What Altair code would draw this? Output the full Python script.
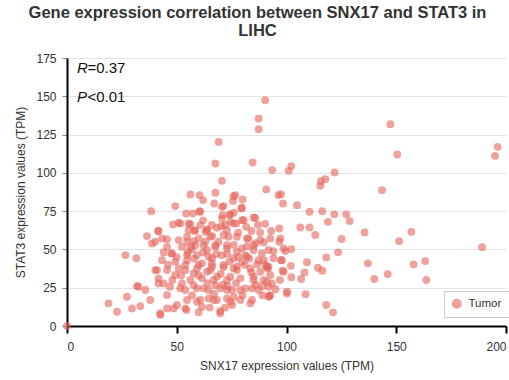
import altair as alt
import pandas as pd

x_vals = [
    90.3, 87.3, 87.3, 69.1, 67.6, 84.6, 93.5, 70.6, 56.2, 60.4, 62, 67.6, 76.7, 90.8, 96.3,
    147.3, 196.2, 195, 150.5, 101, 102.2, 121.9, 117.7, 115.7, 115.4, 143.5, 97.5,
    98.4, 104.8, 110.5, 116.3, 121.8, 127.2, 128.8, 118.9, 90.3, 96.7, 106.3, 110.5, 113.1,
    135.6, 156.9, 151.3, 125.1, 189.1, 89.6, 96.7, 102.2, 99.5, 94, 123.5, 118.1, 109.3,
    97.5, 102, 98.2, 108.2, 114.3, 116.3, 102.2, 106.7, 137.1, 157.9, 163.2, 146.1, 140,
    163.7, 100.2, 108.7, 118.1, 121.2, 89.6,
    91.4, 92.6, 93.4, 92.6, 91.8, 88.8, 90.3,
    80, 75.6, 67.1, 71.3, 79.4, 49.3, 38.4, 54.3, 57.4, 60.4, 70.9, 74.4, 85, 74.4, 79.7,
    50.9, 48.3, 56.2, 60.7, 63.8, 70.3, 77.1, 81.6, 72.9, 41.5, 36.4, 45.6, 40.2, 50.9,
    57.7, 63, 66.1, 73.6, 82, 85, 26.6, 31.6, 47.5, 52.4, 56.9, 58.4, 63.8, 67.6, 72.9,
    77.4, 81.2, 87.3, 91.1, 43.3, 49.3, 54.7, 61.5, 66.1, 71.3, 75.9, 79.7, 40.2, 45.6,
    50.9, 57.7, 63.8, 68.3, 74.4, 85, 89.6, 31.9, 35.7, 41.7, 46.9, 52.4, 57.7, 62.2,
    67.6, 72.9, 79, 84.3, 92.3, 27.3, 18.9, 22.8, 29.6, 33.4, 37.9, 42.5, 45.6, 50.1,
    54.4, 59.2, 64.5, 69.8, 68.3, 74.4, 79, 83.5, 0,
    60.7, 70.6, 74.1, 79.7, 70.6, 75.9, 80.5, 85.8, 55.4, 58.4, 63.8, 68.3, 54.7, 60,
    65.3, 71.3, 77.4, 82.7, 88.1, 92.6, 97.2, 56.2, 62.2, 67.6, 72.9, 79.7, 85, 91.8,
    98.7, 54.7, 59.2, 64.5, 70.6, 75.9, 82, 94.1, 97.9, 53.9, 60, 66.1, 71.3, 77.4,
    86.6, 91.8,
    53.9, 59.2, 65.3, 77.4, 83.5, 88.1, 98.7, 56.2, 61.5, 66.8, 72.9, 79, 85, 91.1,
    100.2, 53.9, 59.2, 64.5, 69.8, 75.2, 81.2, 87.3, 91.8, 54.7, 60.7, 66.8, 72.9, 84.3,
    53.9, 61.5, 69.8, 75.2,
    32.6, 42.5, 41.7, 45.6, 48.6, 51.6, 41, 44, 49.3,
    41.7, 38.7, 43.3, 45.6, 47.9, 51.6, 55.4, 54.7, 75.9,
    58, 62, 66, 69, 73, 76, 78, 81, 84, 86, 88, 64, 67, 71, 74, 77, 80, 83, 57, 60, 63,
    68, 70, 73, 76, 78, 82, 86, 89, 52, 55, 50, 48, 46, 44, 58, 62, 66, 72, 76, 84, 87,
    93, 95, 97, 60, 65, 72, 89,
]
y_vals = [
    147.4, 135.5, 128.5, 120.2, 106.1, 106.8, 101.8, 94.8, 85.9, 85.5, 82.2, 87, 85.5, 89.2, 85.5,
    131.8, 117, 111.1, 112, 101.3, 104.4, 100.2, 95.9, 94.6, 91.5, 88.7, 86.1,
    80, 78.9, 74.6, 75, 72.9, 72.9, 68.5, 68, 66.7, 63.7, 64.4, 64.4, 59.4,
    61.1, 61.5, 55.4, 56.8, 51.5, 54.6, 55, 50.2, 48.9, 48.9, 48.1, 44.8, 41.6,
    42.9, 39.3, 36.1, 35, 38, 36.1, 31.8, 30.7, 40.9, 40.2, 42.4, 33.9, 30.7,
    30, 21.3, 20.7, 13.7, 8.9, 43,
    37.6, 33.3, 27.8, 20.2, 25.6, 47.4, 39.8,
    82.6, 81.7, 80, 78.3, 76.8, 78.3, 75, 73.5, 73.5, 75, 72.4, 73, 70.9, 68, 69.1,
    67.4, 66.3, 66.3, 65.9, 63, 65.2, 67, 64.8, 62.6, 62, 58.7, 56.6, 55, 56.1,
    55.4, 61.5, 58.7, 58.3, 57.2, 52.8, 46.3, 44.2, 47.4, 51.7, 50, 52.8, 49.6, 52.8, 50.7,
    48.5, 46.3, 43, 38.7, 43, 41.9, 43, 40.9, 44.2, 38.3, 37.6, 41.9, 36.5, 36.5,
    37.6, 34.4, 35.4, 32.2, 32.2, 32.2, 30, 26.1, 23.5, 27.8, 25.6, 27.8, 26.7, 24.6,
    26.7, 23.5, 23.5, 24.6, 19.6, 19.1, 14.8, 9.3, 11.5, 13, 17, 8.3, 11.5, 13.7,
    10.4, 15.9, 18, 9.8, 17, 15.9, 17, 14.8, 0,
    74.6, 77.8, 72.4, 77.2, 70.2, 67, 69.1, 70.6, 67, 62.6, 62.6, 64.1, 58.3, 57.2,
    58.3, 59.4, 58.3, 57.2, 56.1, 57.2, 57.2, 51.7, 52.8, 51.7, 52.8, 50.7, 49.6, 49.6,
    50.7, 46.3, 46.3, 45.2, 46.3, 44.2, 45.2, 44.2, 43, 39.8, 39.8, 38.7, 39.8, 38.7,
    40.2, 38.7,
    36.5, 37.6, 36.5, 36.5, 37.6, 35.4, 35.4, 30, 31.1, 30, 30, 31.1, 30, 28.9,
    22.4, 23.5, 24.6, 23.5, 24.6, 23.5, 24.6, 23.5, 19.1, 17, 17, 17, 18, 17,
    11.5, 12.5, 8.3, 13.7,
    25.6, 7.2, 31.1, 20.2, 11.5, 24.6, 36.5, 27.8, 33.3,
    62, 53.9, 57.2, 51.7, 47.4, 67, 62.6, 55, 84.8,
    44, 48, 41, 55, 47, 53, 61, 40, 35, 27, 61, 28, 21, 27, 42, 28, 20, 44, 20, 33, 55,
    47, 34, 26, 19, 45, 52, 54, 26, 33, 48, 45, 30, 40, 48, 62, 69, 66, 66, 74, 62, 66,
    62, 24, 30, 9, 12, 12, 20,
]
groups = ["Tumor"] * len(x_vals)

x_ticks = [0, 50, 100, 150, 200]
y_ticks = [0, 25, 50, 75, 100, 125, 150, 175]

# annotation: italic letter + normal remainder
ital_x = [4.6, 4.6]
ital_y = [168.5, 149.6]
ital_text = ["R", "P"]
norm_x = [9.3, 9.3]
norm_y = [168.5, 149.6]
norm_text = ["=0.37", "<0.01"]

df = pd.DataFrame({"x": x_vals, "y": y_vals, "group": groups})
ital = pd.DataFrame({"x": ital_x, "y": ital_y, "t": ital_text})
norm = pd.DataFrame({"x": norm_x, "y": norm_y, "t": norm_text})

FONT = "Liberation Sans"

xs = alt.Scale(domain=[0, 200], nice=False, zero=True)
ys = alt.Scale(domain=[0, 175], nice=False)

x_axis = alt.Axis(
    values=x_ticks, grid=False, title="SNX17 expression values (TPM)",
    domainColor="#000000", domainWidth=2, tickColor="#000000", tickWidth=2,
    tickSize=7, labelPadding=8, labelFontSize=12, labelColor="#333333",
    labelOverlap=False,
    titleFontSize=12, titleFontWeight="normal", titleColor="#333333",
    titlePadding=8, labelFont=FONT, titleFont=FONT)
y_axis = alt.Axis(
    values=y_ticks, grid=True, gridColor="#e3e3e3", gridWidth=1,
    title="STAT3 expression values (TPM)", labelOverlap=False,
    domainColor="#000000", domainWidth=2, tickColor="#888888", tickWidth=1,
    tickSize=5, labelPadding=6, labelFontSize=12, labelColor="#333333",
    titleFontSize=12, titleFontWeight="normal", titleColor="#333333",
    titlePadding=8, labelFont=FONT, titleFont=FONT)

X = alt.X("x:Q", scale=xs, axis=x_axis)
Y = alt.Y("y:Q", scale=ys, axis=y_axis)

points = alt.Chart(df).mark_circle(size=62, opacity=0.6).encode(
    x=X, y=Y,
    color=alt.Color("group:N", scale=alt.Scale(domain=["Tumor"], range=["#e4645a"]),
                    legend=alt.Legend(title=None, orient="none", legendX=377, legendY=233,
                                      strokeColor="#cccccc", padding=7,
                                      labelFontSize=11.5, labelFont=FONT, labelColor="#333333",
                                      symbolSize=100, symbolOpacity=0.6, symbolType="circle",
                                      symbolStrokeWidth=0, labelOffset=6)),
)

t_ital = alt.Chart(ital).mark_text(align="left", baseline="middle", fontSize=15,
                                   font=FONT, fontStyle="italic", color="#111111").encode(
    x=X, y=Y, text="t:N")
t_norm = alt.Chart(norm).mark_text(align="left", baseline="middle", fontSize=15,
                                   font=FONT, color="#111111").encode(
    x=X, y=Y, text="t:N")

chart = alt.layer(points, t_ital, t_norm).properties(
    width=439, height=268,
    autosize="none",
    padding={"left": 67, "top": 58, "right": 3, "bottom": 54},
    title=alt.TitleParams(
        text=["Gene expression correlation between SNX17 and STAT3 in", "LIHC"],
        fontSize=16.5, fontWeight="bold", color="#333333", font=FONT,
        anchor="middle", dx=-29, offset=13, lineHeight=18),
).configure(background="white").configure_view(stroke=None)

chart.save("out.html", embed_options={"renderer": "svg", "actions": False})
